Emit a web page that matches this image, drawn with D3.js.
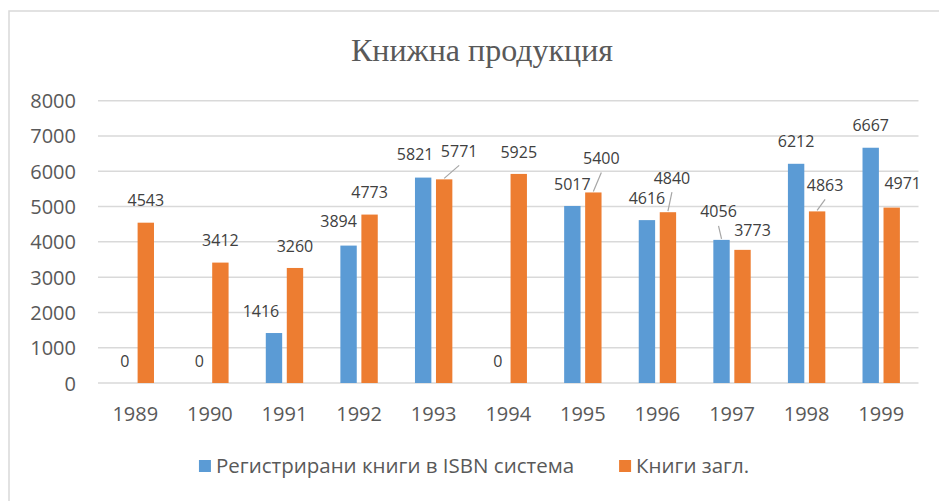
<!DOCTYPE html>
<html>
<head>
<meta charset="utf-8">
<script src="https://cdn.jsdelivr.net/npm/d3@7"></script>
<style>
body{margin:0;background:#fff;}
text{font-family:"Open Sans",sans-serif;}
</style>
</head>
<body>
<div id="chart"></div>
<script>
// data
const years = ["1989","1990","1991","1992","1993","1994","1995","1996","1997","1998","1999"];
const isbnBooks = [0,0,1416,3894,5821,0,5017,4616,4056,6212,6667];
const titledBooks = [4543,3412,3260,4773,5771,5925,5400,4840,3773,4863,4971];
const seriesNames = ["Регистрирани книги в ISBN система","Книги загл."];
const yTicks = [0,1000,2000,3000,4000,5000,6000,7000,8000];
const titleText = "Книжна продукция";

// label nudges [dx, dy, leader] where Excel moved a label
const isbnLabelShift = [[0,0,0],[0,0,0],[-13,0,0],[-10,-2,0],[-8,-1,0],[0,0,0],[0,0,0],[0,0,0],[-3,-6,1],[0,0,0],[0,0,0]];
const titledLabelShift = [[0,0,0],[0,0,0],[0,0,0],[0,0,0],[15,-6,1],[0,0,0],[8,-12,1],[4,-12,1],[10,3,0],[8,-4,1],[11,-2,0]];

const colors = ["#5B9BD5","#ED7D31"];
const W = 939, H = 501;

let svg = d3.select("#chart").append("svg").attr("width",W).attr("height",H);

// chart border
svg.append("rect").attr("x",9).attr("y",11).attr("width",W+20).attr("height",H+20)
  .attr("fill","#fff").attr("stroke","#d9d9d9").attr("stroke-width",1.5);

svg.append("text").attr("x",482).attr("y",61).attr("text-anchor","middle")
  .style("font-family","'Liberation Serif',serif").style("font-size","32px")
  .attr("fill","#595959").text(titleText);

/*scales*/
let x0 = d3.scaleBand().domain(years).range([98,918.5]);
let x1 = d3.scaleBand().domain([0,1]).range([-21,21]).paddingInner(0.22).paddingOuter(0.11);
let y = d3.scaleLinear().domain([0,8000]).range([383,100.7]);

// gridlines
svg.append("g").selectAll("line").data(yTicks).enter().append("line")
  .attr("x1",98).attr("x2",918.5).attr("y1",d=>y(d)).attr("y2",d=>y(d))
  .attr("stroke","#d9d9d9").attr("stroke-width",1.5);

// y axis
let axisY = svg.append("g").attr("transform","translate(76,0)")
  .call(d3.axisLeft(y).tickValues(yTicks).tickSize(0).tickPadding(0).tickFormat(d3.format("d")));
axisY.select(".domain").remove();
axisY.selectAll("text").style("font-size","20px").attr("fill","#595959").attr("dy","0.35em");

// x axis
let axisX = svg.append("g").attr("transform","translate(0,383)")
  .call(d3.axisBottom(x0).tickSize(0).tickPadding(0));
axisX.select(".domain").remove();
axisX.selectAll("text").style("font-size","20px").attr("fill","#595959").attr("y",31).attr("dy","0.35em");

// bars
const series = [isbnBooks, titledBooks];
const shifts = [isbnLabelShift, titledLabelShift];
const cx = (i,s) => x0(years[i]) + x0.bandwidth()/2 + x1(s) + x1.bandwidth()/2;

series.forEach((vals,s) => {
  let g = svg.append("g");
  g.selectAll("rect").data(vals).enter().append("rect")
    .attr("x",(d,i)=> x0(years[i]) + x0.bandwidth()/2 + x1(s))
    .attr("width",x1.bandwidth())
    .attr("y",d=>y(d))
    .attr("height",d=>y(0)-y(d))
    .attr("fill",colors[s]);
  // leader lines
  g.selectAll("line").data(vals.map((v,i)=>({v:v,i:i})).filter(d=>shifts[s][d.i][2])).enter().append("line")
    .attr("x1",d=>cx(d.i,s)).attr("y1",d=>y(d.v)-1)
    .attr("x2",d=>cx(d.i,s)+shifts[s][d.i][0]).attr("y2",d=>y(d.v)-22+shifts[s][d.i][1]+14)
    .attr("stroke","#a6a6a6").attr("stroke-width",1.2);
  g.selectAll("text").data(vals).enter().append("text")
    .attr("x",(d,i)=>cx(i,s)+shifts[s][i][0])
    .attr("y",(d,i)=>y(d)-22+shifts[s][i][1])
    .attr("dy","0.35em").attr("text-anchor","middle")
    .style("font-size","16px").attr("fill","#404040")
    .text(d=>d);
});

// legend
let legend = svg.append("g").attr("transform","translate(0,466)");
let items = legend.selectAll("g").data(seriesNames).enter().append("g");
items.append("rect").attr("width",12).attr("height",12).attr("y",-6).attr("fill",(d,i)=>colors[i]);
items.append("text").attr("x",17).attr("dy","0.35em").style("font-size","20.5px").attr("fill","#595959").text(d=>d);
let widths = [];
items.each(function(){ widths.push(17 + d3.select(this).select("text").node().getComputedTextLength()); });
let total = widths[0] + 45 + widths[1];
let start = 474 - total/2;
items.attr("transform",(d,i)=> "translate(" + (i==0 ? start : start + widths[0] + 45) + ",0)");
</script>
</body>
</html>
